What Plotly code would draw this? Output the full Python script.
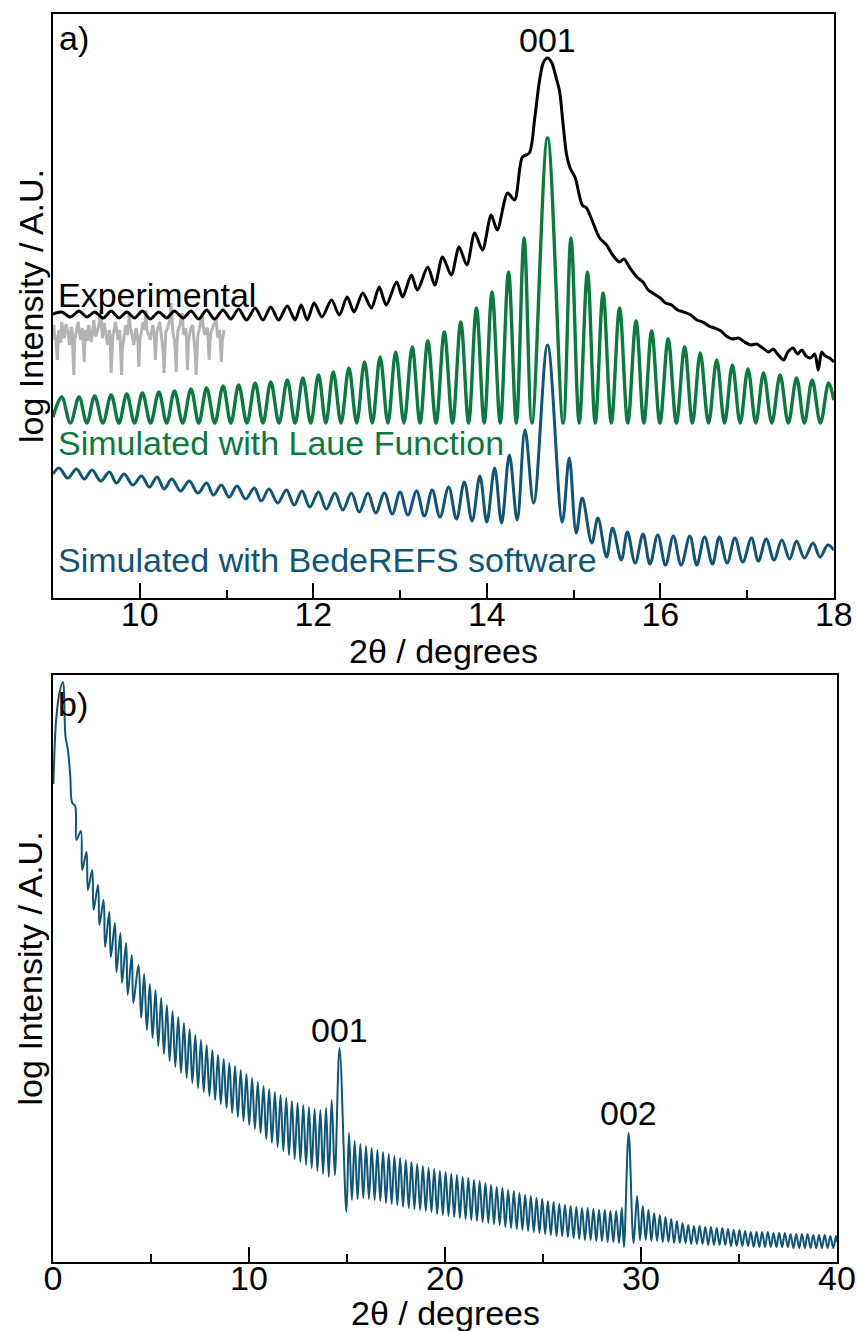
import plotly.graph_objects as go

# ---------------- Panel a : 2θ = 9–18°, log intensity (arbitrary units) ----------------
# Experimental (black)
experimental = [
    (9.00, 284), (9.10, 286), (9.20, 281), (9.30, 287), (9.39, 281), (9.48, 286), (9.58, 280),
    (9.67, 287), (9.76, 280), (9.85, 286), (9.94, 280), (10.03, 287), (10.12, 279), (10.22, 286),
    (10.31, 280), (10.40, 287), (10.50, 280), (10.59, 287), (10.68, 279), (10.77, 288), (10.86, 279),
    (10.96, 288), (11.05, 279), (11.14, 289), (11.23, 278), (11.33, 290), (11.42, 278), (11.51, 291),
    (11.60, 278), (11.70, 292), (11.79, 278), (11.86, 293), (11.93, 278), (12.01, 295), (12.10, 281),
    (12.21, 298), (12.30, 283), (12.39, 301), (12.47, 286), (12.57, 305), (12.67, 290), (12.76, 311),
    (12.84, 293), (12.96, 316), (13.03, 301), (13.13, 323), (13.20, 308), (13.32, 331), (13.40, 313),
    (13.49, 341), (13.59, 323), (13.68, 351), (13.77, 333), (13.86, 365), (13.95, 348), (14.05, 383),
    (14.12, 368), (14.24, 405), (14.32, 398), (14.41, 441), (14.49, 445), (14.55, 478), (14.60, 513),
    (14.65, 535), (14.70, 540), (14.75, 535), (14.80, 520), (14.84, 506), (14.88, 473), (14.92, 443),
    (14.96, 430), (15.02, 420), (15.10, 393), (15.15, 390), (15.22, 376), (15.30, 360), (15.38, 353),
    (15.45, 343), (15.53, 336), (15.58, 339), (15.65, 330), (15.73, 321), (15.80, 316), (15.86, 308),
    (15.93, 304), (16.00, 300), (16.06, 295), (16.13, 293), (16.20, 288), (16.27, 286), (16.35, 283),
    (16.42, 278), (16.49, 276), (16.56, 272), (16.63, 270), (16.70, 267), (16.76, 262), (16.83, 259),
    (16.90, 260), (16.97, 256), (17.04, 253), (17.11, 254), (17.18, 250), (17.25, 246), (17.30, 249),
    (17.36, 243), (17.42, 238), (17.47, 246), (17.53, 250), (17.58, 244), (17.63, 248), (17.68, 242),
    (17.73, 240), (17.78, 244), (17.82, 228), (17.86, 246), (17.90, 242), (17.95, 240), (18.00, 236),
]

# Noisy experimental background (grey), 9–11°
experimental_grey = [
    (9.01, 273), (9.02, 258), (9.03, 263), (9.05, 238), (9.06, 262), (9.07, 268), (9.09, 255),
    (9.10, 276), (9.12, 266), (9.13, 260), (9.15, 274), (9.16, 270), (9.18, 262), (9.19, 253),
    (9.21, 271), (9.22, 268), (9.24, 223), (9.25, 258), (9.26, 263), (9.28, 270), (9.29, 276),
    (9.31, 262), (9.32, 258), (9.34, 270), (9.35, 254), (9.36, 236), (9.37, 262), (9.38, 268),
    (9.40, 257), (9.41, 273), (9.43, 265), (9.44, 256), (9.46, 268), (9.47, 278), (9.49, 262),
    (9.50, 263), (9.52, 270), (9.53, 273), (9.55, 288), (9.56, 266), (9.57, 260), (9.59, 275),
    (9.60, 270), (9.62, 262), (9.63, 253), (9.65, 268), (9.66, 258), (9.67, 225), (9.68, 255),
    (9.69, 263), (9.71, 270), (9.72, 276), (9.74, 264), (9.75, 258), (9.77, 268), (9.78, 252),
    (9.79, 223), (9.80, 250), (9.81, 258), (9.83, 268), (9.84, 273), (9.86, 263), (9.87, 272),
    (9.88, 285), (9.89, 270), (9.90, 268), (9.92, 259), (9.93, 253), (9.95, 266), (9.96, 270),
    (9.98, 256), (9.99, 231), (10.00, 258), (10.01, 263), (10.03, 271), (10.04, 276), (10.06, 268),
    (10.07, 288), (10.08, 270), (10.09, 266), (10.11, 262), (10.12, 258), (10.14, 268), (10.15, 273),
    (10.17, 260), (10.18, 238), (10.19, 257), (10.20, 268), (10.22, 272), (10.23, 276), (10.25, 262),
    (10.26, 253), (10.27, 246), (10.28, 225), (10.29, 250), (10.30, 266), (10.32, 270), (10.33, 273),
    (10.35, 279), (10.36, 295), (10.37, 274), (10.38, 268), (10.39, 262), (10.40, 258), (10.41, 247),
    (10.42, 226), (10.43, 255), (10.44, 268), (10.46, 272), (10.47, 276), (10.48, 280), (10.49, 285),
    (10.50, 270), (10.51, 263), (10.53, 270), (10.54, 258), (10.55, 228), (10.56, 256), (10.58, 266),
    (10.59, 270), (10.61, 273), (10.62, 265), (10.63, 258), (10.64, 244), (10.65, 223), (10.66, 255),
    (10.67, 263), (10.69, 270), (10.70, 276), (10.71, 280), (10.72, 285), (10.73, 272), (10.75, 263),
    (10.76, 268), (10.78, 270), (10.79, 256), (10.80, 238), (10.81, 258), (10.82, 266), (10.84, 270),
    (10.85, 273), (10.87, 276), (10.88, 280), (10.89, 268), (10.90, 260), (10.91, 265), (10.92, 268),
    (10.93, 255), (10.94, 236), (10.95, 256), (10.96, 263), (10.97, 268),
]

# Simulated with Laue function (green): fringe maxima and minima
laue_peaks = [
    (9.10, 201), (9.30, 201), (9.48, 202), (9.67, 203), (9.85, 204), (10.03, 205), (10.22, 206),
    (10.40, 207), (10.59, 209), (10.77, 210), (10.96, 212), (11.14, 213), (11.33, 215), (11.51, 216),
    (11.70, 218), (11.88, 220), (12.06, 223), (12.23, 226), (12.41, 230), (12.59, 236), (12.77, 241),
    (12.95, 246), (13.14, 251), (13.32, 257), (13.51, 266), (13.70, 276), (13.88, 290), (14.06, 306),
    (14.25, 326), (14.43, 360), (14.70, 460), (14.97, 360), (15.16, 326), (15.34, 305), (15.53, 290),
    (15.72, 277), (15.90, 267), (16.09, 259), (16.28, 251), (16.46, 245), (16.65, 238), (16.83, 233),
    (17.01, 229), (17.19, 225), (17.38, 223), (17.57, 220), (17.75, 218), (17.94, 215),
]
laue_troughs = [
    (9.00, 181), (9.20, 175), (9.39, 175), (9.575, 175), (9.76, 175), (9.94, 175), (10.125, 175),
    (10.31, 175), (10.495, 175), (10.68, 175), (10.865, 175), (11.05, 175), (11.235, 175),
    (11.42, 175), (11.605, 175), (11.79, 175), (11.97, 175), (12.145, 175), (12.32, 175),
    (12.50, 175), (12.68, 175), (12.86, 175), (13.045, 175), (13.23, 175), (13.415, 175),
    (13.605, 175), (13.79, 175), (13.97, 175), (14.155, 175), (14.34, 175), (14.52, 175),
    (14.88, 175), (15.065, 175), (15.25, 175), (15.435, 175), (15.625, 175), (15.81, 175),
    (15.995, 175), (16.185, 175), (16.37, 175), (16.555, 175), (16.74, 175), (16.92, 175),
    (17.10, 175), (17.285, 175), (17.475, 175), (17.66, 175), (17.845, 175), (18.00, 198),
]

# Simulated with BedeREFS (blue), panel a
bede_a_peaks = [
    (9.07, 130), (9.27, 129), (9.45, 128), (9.65, 126), (9.82, 124), (10.02, 122), (10.20, 121),
    (10.37, 119), (10.57, 117), (10.77, 115), (10.94, 113), (11.12, 112), (11.32, 110), (11.49, 109),
    (11.69, 108), (11.87, 107), (12.06, 106), (12.25, 105), (12.44, 105), (12.63, 105), (12.82, 105),
    (13.00, 106), (13.19, 107), (13.37, 108), (13.56, 111), (13.74, 116), (13.92, 122), (14.09, 130),
    (14.26, 143), (14.44, 168), (14.70, 253), (14.95, 140), (15.10, 100), (15.28, 80), (15.45, 70),
    (15.62, 66), (15.80, 64), (15.97, 63), (16.15, 62), (16.34, 62), (16.51, 61), (16.68, 61),
    (16.86, 60), (17.05, 60), (17.22, 59), (17.40, 58), (17.57, 57), (17.76, 55), (17.93, 53),
]
bede_a_troughs = [
    (9.00, 124), (9.17, 120), (9.36, 119), (9.55, 117), (9.73, 115), (9.92, 113), (10.11, 111),
    (10.28, 109), (10.47, 107), (10.67, 105), (10.85, 103), (11.03, 101), (11.22, 99), (11.40, 97),
    (11.59, 95), (11.78, 93), (11.96, 91), (12.15, 89), (12.34, 88), (12.53, 86), (12.72, 85),
    (12.91, 84), (13.09, 83), (13.28, 82), (13.46, 81), (13.65, 79), (13.83, 77), (14.00, 76),
    (14.17, 75), (14.35, 78), (14.54, 95), (14.87, 76), (15.03, 65), (15.21, 55), (15.38, 41),
    (15.55, 38), (15.71, 35), (15.88, 34), (16.06, 33), (16.24, 33), (16.42, 33), (16.60, 34),
    (16.77, 35), (16.95, 36), (17.13, 37), (17.31, 38), (17.49, 39), (17.66, 40), (17.84, 41),
    (18.00, 48),
]

# ---------------- Panel b : 2θ = 0–40°, BedeREFS simulation ----------------
bede_b_peaks = [
    (0.50, 580), (0.64, 525), (0.88, 486), (1.13, 456), (1.42, 431), (1.71, 410), (2.00, 392),
    (2.30, 377), (2.58, 362), (2.87, 350), (3.16, 339), (3.44, 329), (3.73, 319), (4.02, 307),
    (4.36, 297), (4.65, 288), (4.94, 278), (5.23, 272), (5.52, 264), (5.81, 257), (6.10, 251),
    (6.39, 245), (6.68, 239), (6.97, 233), (7.26, 227), (7.55, 222), (7.84, 217), (8.13, 212),
    (8.42, 207), (8.71, 203), (9.00, 199), (9.29, 196), (9.58, 192), (9.87, 188), (10.16, 184),
    (10.45, 180), (10.74, 176), (11.03, 173), (11.32, 170), (11.61, 167), (11.90, 164), (12.19, 161),
    (12.48, 159), (12.77, 157), (13.06, 155), (13.35, 153), (13.64, 152), (13.93, 154), (14.22, 162),
    (14.62, 214), (15.10, 129), (15.39, 121), (15.68, 118), (15.97, 116), (16.26, 114), (16.55, 112),
    (16.84, 110), (17.13, 108), (17.42, 106), (17.71, 104), (18.00, 102), (18.29, 100), (18.58, 98),
    (18.87, 96), (19.16, 94), (19.45, 93), (19.74, 91), (20.03, 90), (20.32, 88), (20.61, 87),
    (20.90, 85), (21.19, 84), (21.48, 82), (21.77, 81), (22.06, 79), (22.35, 77), (22.64, 75),
    (22.93, 74), (23.22, 72), (23.51, 71), (23.80, 69), (24.09, 67), (24.38, 66), (24.67, 64),
    (24.96, 63), (25.25, 61), (25.54, 60), (25.83, 58), (26.12, 57), (26.41, 56), (26.70, 55),
    (26.99, 54), (27.28, 54), (27.57, 53), (27.86, 52), (28.15, 52), (28.44, 51), (28.73, 51),
    (29.02, 54), (29.37, 129), (29.80, 66), (30.09, 56), (30.38, 52), (30.67, 49), (30.96, 47),
    (31.25, 45), (31.54, 43), (31.83, 41), (32.12, 39), (32.41, 37), (32.70, 36), (32.99, 36),
    (33.28, 35), (33.57, 35), (33.86, 34), (34.15, 34), (34.44, 33), (34.73, 32), (35.02, 32),
    (35.31, 31), (35.60, 30), (35.89, 30), (36.18, 30), (36.47, 30), (36.76, 29), (37.05, 29),
    (37.34, 29), (37.63, 28), (37.92, 28), (38.21, 28), (38.50, 28), (38.79, 27), (39.08, 27),
    (39.37, 27), (39.66, 26), (39.95, 26),
]
bede_b_troughs = [
    (0.02, 478), (0.16, 542), (0.33, 569), (0.76, 512), (0.98, 459), (1.20, 422), (1.49, 392),
    (1.78, 372), (2.07, 352), (2.37, 337), (2.66, 315), (2.95, 305), (3.24, 290), (3.52, 279),
    (3.81, 267), (4.10, 259), (4.50, 244), (4.79, 232), (5.08, 224), (5.37, 216), (5.66, 208),
    (5.95, 201), (6.24, 195), (6.53, 189), (6.82, 184), (7.11, 179), (7.40, 174), (7.69, 170),
    (7.98, 166), (8.27, 162), (8.56, 158), (8.85, 154), (9.14, 149), (9.43, 145), (9.72, 141),
    (10.01, 137), (10.30, 133), (10.59, 129), (10.88, 123), (11.17, 119), (11.46, 115), (11.75, 111),
    (12.04, 107), (12.33, 103), (12.62, 100), (12.91, 97), (13.20, 94), (13.49, 91), (13.78, 88),
    (14.07, 85), (14.38, 87), (14.97, 50), (15.25, 62), (15.54, 63), (15.83, 64), (16.12, 63),
    (16.41, 62), (16.70, 61), (16.99, 59), (17.28, 58), (17.57, 57), (17.86, 55), (18.15, 54),
    (18.44, 53), (18.73, 52), (19.02, 51), (19.31, 50), (19.60, 48), (19.89, 47), (20.18, 46),
    (20.47, 45), (20.76, 44), (21.05, 43), (21.34, 42), (21.63, 41), (21.92, 40), (22.21, 39),
    (22.50, 38), (22.79, 37), (23.08, 35), (23.37, 34), (23.66, 33), (23.95, 32), (24.24, 31),
    (24.53, 30), (24.82, 29), (25.11, 28), (25.40, 27), (25.69, 26), (25.98, 26), (26.27, 25),
    (26.56, 24), (26.85, 23), (27.14, 22), (27.43, 22), (27.72, 21), (28.01, 21), (28.30, 20),
    (28.59, 20), (28.88, 19), (29.13, 15), (29.62, 19), (29.95, 22), (30.24, 22), (30.53, 21),
    (30.82, 21), (31.11, 20), (31.40, 20), (31.69, 19), (31.98, 19), (32.27, 19), (32.56, 18),
    (32.85, 18), (33.14, 18), (33.43, 17), (33.72, 17), (34.01, 17), (34.30, 17), (34.59, 16),
    (34.88, 16), (35.17, 16), (35.46, 16), (35.75, 15), (36.04, 15), (36.33, 15), (36.62, 15),
    (36.91, 15), (37.20, 15), (37.49, 15), (37.78, 14), (38.07, 14), (38.36, 14), (38.65, 14),
    (38.94, 14), (39.23, 14), (39.52, 14), (39.81, 14), (40.00, 20),
]

# Axis / label text
x_title = "2θ / degrees"
y_title = "log Intensity / A.U."
ticks_a = [10, 12, 14, 16, 18]
minor_a = [11, 13, 15, 17]
ticks_b = [0, 10, 20, 30, 40]
minor_b = [5, 15, 25, 35]

BLACK = "#000000"
GREY = "#b3b3b3"
GREEN = "#0b7a3e"
BLUE = "#0f5577"
FONT = "Liberation Sans, Arial, sans-serif"
FS = 34


def merged(*point_lists):
    pts = sorted(p for lst in point_lists for p in lst)
    return [p[0] for p in pts], [p[1] for p in pts]


fig = go.Figure()

gx, gy = merged(experimental_grey)
fig.add_trace(go.Scatter(x=gx, y=gy, mode="lines", line=dict(color=GREY, width=3),
                         xaxis="x", yaxis="y", name="Experimental (background)"))
ex, ey = merged(experimental)
fig.add_trace(go.Scatter(x=ex, y=ey, mode="lines", line=dict(color=BLACK, width=3, shape="spline", smoothing=0.8),
                         xaxis="x", yaxis="y", name="Experimental"))
lx, ly = merged(laue_peaks, laue_troughs)
fig.add_trace(go.Scatter(x=lx, y=ly, mode="lines", line=dict(color=GREEN, width=3.4, shape="spline", smoothing=1),
                         xaxis="x", yaxis="y", name="Laue"))
bx, by = merged(bede_a_peaks, bede_a_troughs)
fig.add_trace(go.Scatter(x=bx, y=by, mode="lines", line=dict(color=BLUE, width=3, shape="spline", smoothing=1),
                         xaxis="x", yaxis="y", name="BedeREFS"))
b2x, b2y = merged(bede_b_peaks, bede_b_troughs)
fig.add_trace(go.Scatter(x=b2x, y=b2y, mode="lines", line=dict(color=BLUE, width=2, shape="spline", smoothing=1),
                         xaxis="x2", yaxis="y2", name="BedeREFS full"))

axis_common = dict(showline=True, linecolor=BLACK, linewidth=2, mirror=True, showgrid=False,
                   zeroline=False, automargin=False)
xcommon = dict(axis_common, ticks="inside", ticklen=15, tickwidth=2, tickcolor=BLACK,
               tickfont=dict(size=FS, color=BLACK, family=FONT), ticklabelstandoff=-15)
ycommon = dict(axis_common, ticks="", showticklabels=False)

fig.update_layout(
    width=857, height=1331,
    margin=dict(l=53, r=20, t=14, b=69),
    paper_bgcolor="white", plot_bgcolor="white",
    showlegend=False,
    font=dict(family=FONT, size=FS, color=BLACK),
    xaxis=dict(xcommon, domain=[0, 0.996], range=[9, 18], anchor="y", tickvals=ticks_a,
               minor=dict(tickvals=minor_a, ticks="inside", ticklen=8, tickwidth=2, tickcolor=BLACK)),
    yaxis=dict(ycommon, domain=[0.532, 1], range=[0, 584], anchor="x"),
    xaxis2=dict(xcommon, domain=[0, 1], range=[0, 40], anchor="y2", tickvals=ticks_b,
                minor=dict(tickvals=minor_b, ticks="inside", ticklen=8, tickwidth=2, tickcolor=BLACK)),
    yaxis2=dict(ycommon, domain=[0, 0.4704], range=[0, 587], anchor="x2"),
)

# Axis titles
for xr, ypos in (("x domain", 0.4899), ("x2 domain", -0.0411)):
    fig.add_annotation(text=x_title, xref=xr, x=0.5, yref="paper", y=ypos, xanchor="center",
                       yanchor="middle", showarrow=False, font=dict(size=FS, color=BLACK, family=FONT))
for yr in ("y domain", "y2 domain"):
    fig.add_annotation(text=y_title, xref="paper", x=-0.0281, yref=yr, y=0.5, textangle=-90,
                       xanchor="center", yanchor="middle", showarrow=False,
                       font=dict(size=FS, color=BLACK, family=FONT))

ann = [
    dict(text="a)", x=9.05, y=560, xref="x", yref="y", xanchor="left", color=BLACK),
    dict(text="001", x=14.70, y=558, xref="x", yref="y", xanchor="center", color=BLACK),
    dict(text="Experimental", x=9.035, y=303, xref="x", yref="y", xanchor="left", color=BLACK),
    dict(text="Simulated with Laue Function", x=9.035, y=155, xref="x", yref="y", xanchor="left", color=GREEN),
    dict(text="Simulated with BedeREFS software", x=9.035, y=38, xref="x", yref="y", xanchor="left", color=BLUE),
    dict(text="b)", x=0.15, y=558, xref="x2", yref="y2", xanchor="left", color=BLACK),
    dict(text="001", x=14.62, y=232, xref="x2", yref="y2", xanchor="center", color=BLACK),
    dict(text="002", x=29.37, y=149, xref="x2", yref="y2", xanchor="center", color=BLACK),
]
for a in ann:
    fig.add_annotation(text=a["text"], x=a["x"], y=a["y"], xref=a["xref"], yref=a["yref"],
                       xanchor=a["xanchor"], yanchor="middle", showarrow=False,
                       font=dict(size=FS, color=a["color"], family=FONT))

# Remove the default page margin so the 857x1331 figure fills the window exactly
fig.write_html("out.html", config={"displayModeBar": False},
               post_script="document.body.style.margin='0px';document.body.style.overflow='hidden';")
